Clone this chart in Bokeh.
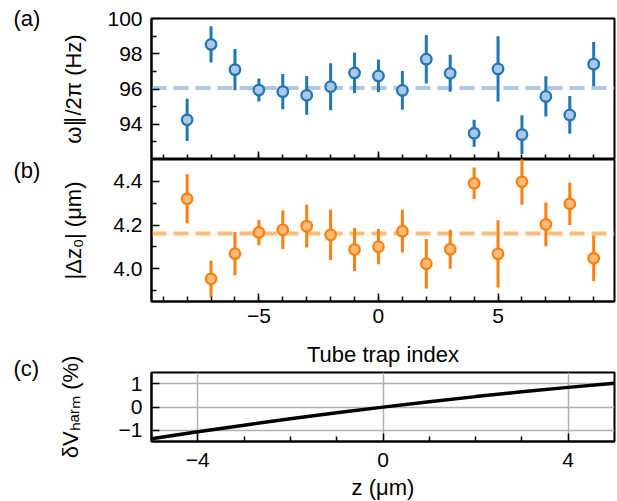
from bokeh.plotting import figure
from bokeh.models import Range1d, FixedTicker, Span, Label, ColumnDataSource, Title
from bokeh.layouts import column
from bokeh.embed import file_html
from bokeh.resources import INLINE

# ---------------- data ----------------
trap_index = [-8, -7, -6, -5, -4, -3, -2, -1, 0, 1, 2, 3, 4, 5, 6, 7, 8, 9]
freq_hz = [94.25, 98.53, 97.10, 95.94, 95.85, 95.64, 96.13, 96.91, 96.74,
           95.92, 97.69, 96.89, 93.49, 97.14, 93.41, 95.58, 94.53, 97.41]
freq_err = [1.20, 1.03, 1.17, 0.65, 1.00, 1.10, 1.33, 1.15, 0.93,
            1.10, 1.38, 1.05, 0.76, 1.85, 1.10, 1.14, 1.07, 1.25]
freq_mean = 96.06

dz_um = [4.320, 3.954, 4.069, 4.166, 4.178, 4.195, 4.155, 4.088, 4.101,
         4.172, 4.023, 4.089, 4.391, 4.068, 4.398, 4.203, 4.297, 4.048]
dz_err = [0.112, 0.082, 0.099, 0.058, 0.088, 0.098, 0.115, 0.098, 0.081,
          0.098, 0.113, 0.089, 0.072, 0.154, 0.105, 0.100, 0.097, 0.104]
dz_mean = 4.161

z_um = [-5, -4, -3, -2, -1, 0, 1, 2, 3, 4, 5]
dv_pct = [-1.36, -1.06, -0.777, -0.504, -0.245, 0.0, 0.232, 0.452, 0.657, 0.85, 1.03]

idx_major = [-5, 0, 5]
idx_minor = list(range(-9, 10))
freq_major = [94, 96, 98, 100]
freq_minor = [93, 95, 97, 99]
dz_major = [4.0, 4.2, 4.4]
dz_minor = [3.9, 4.1, 4.3]
z_major = [-4, 0, 4]
z_minor = [-3, -2, -1, 1, 2, 3]
dv_major = [-1, 0, 1]

BLUE, BLUE_L = "#1f77b4", "#aec7e8"
ORANGE, ORANGE_L = "#ff7f0e", "#ffbb78"
FONT = "Liberation Sans"
TICK_FS = "21px"
LAB_FS = "22px"


def minus(v):
    return ("%g" % v).replace("-", "\u2212")


def make_fig(height, xr, yr, top, bottom):
    p = figure(width=617, height=height, x_range=Range1d(*xr), y_range=Range1d(*yr),
               output_backend="svg", toolbar_location=None,
               min_border_left=151, min_border_right=3,
               min_border_top=top, min_border_bottom=bottom)
    p.outline_line_color = "black"
    p.outline_line_width = 2
    p.outline_line_alpha = 1
    p.grid.visible = False
    p.background_fill_color = "white"
    p.border_fill_color = "white"
    for ax in p.axis:
        ax.axis_line_width = 2
        ax.axis_line_color = "black"
        ax.major_tick_in = 8
        ax.major_tick_out = 0
        ax.minor_tick_in = 5
        ax.minor_tick_out = 0
        ax.major_tick_line_width = 1.5
        ax.minor_tick_line_width = 1.5
        ax.major_tick_line_color = "black"
        ax.minor_tick_line_color = "black"
        ax.major_label_text_font = FONT
        ax.major_label_text_font_size = TICK_FS
        ax.major_label_text_color = "black"
        ax.axis_label_text_font = FONT
        ax.axis_label_text_font_size = LAB_FS
        ax.axis_label_text_font_style = "normal"
        ax.axis_label_text_color = "black"
    p.yaxis.major_label_standoff = 9
    return p


def canvas_label(p, text, x, y, side="left", align="left"):
    p.add_layout(Label(x=x, y=y, x_units="canvas", y_units="canvas", text=text,
                       text_font=FONT, text_font_size=LAB_FS, text_color="black",
                       text_align=align, text_baseline="alphabetic"), side)


# ---------------- panel (a) ----------------
pa = make_fig(159, (-9.49, 9.87), (92, 100), 18, 0)
pa.yaxis.ticker = FixedTicker(ticks=freq_major, minor_ticks=freq_minor)
pa.yaxis.axis_label = "\u03c9\u2225/2\u03c0 (Hz)"
pa.yaxis.axis_label_standoff = 18
pa.xaxis.ticker = FixedTicker(ticks=idx_major, minor_ticks=idx_minor)
pa.xaxis.major_label_overrides = {v: "" for v in idx_major}
pa.xaxis.major_label_text_font_size = "0px"
pa.xaxis.major_label_standoff = 0
pa.add_layout(Span(location=freq_mean, dimension="width", line_color=BLUE_L,
                   line_width=4, line_dash="15 7", level="underlay"))
src_a = ColumnDataSource(dict(x=trap_index, y=freq_hz,
                              lo=[v - e for v, e in zip(freq_hz, freq_err)],
                              hi=[v + e for v, e in zip(freq_hz, freq_err)]))
pa.segment(x0="x", y0="lo", x1="x", y1="hi", source=src_a, line_color=BLUE, line_width=3)
pa.scatter(x="x", y="y", source=src_a, size=10.5, fill_color=BLUE_L, line_color=BLUE, line_width=2.3)
canvas_label(pa, "(a)", 13, 18)

# ---------------- panel (b) ----------------
pb = make_fig(175, (-9.49, 9.87), (3.85, 4.50), 0, 33)
pb.yaxis.ticker = FixedTicker(ticks=dz_major, minor_ticks=dz_minor)
pb.yaxis.major_label_overrides = {v: "%.1f" % v for v in dz_major}
pb.yaxis.axis_label = "|\u0394z\u2080| (\u03bcm)"
pb.yaxis.axis_label_standoff = 24
pb.xaxis.ticker = FixedTicker(ticks=idx_major, minor_ticks=idx_minor)
pb.xaxis.major_label_overrides = {v: minus(v) for v in idx_major}
pb.xaxis.major_label_standoff = 7
pb.add_layout(Span(location=dz_mean, dimension="width", line_color=ORANGE_L,
                   line_width=4, line_dash="15 7", level="underlay"))
src_b = ColumnDataSource(dict(x=trap_index, y=dz_um,
                              lo=[v - e for v, e in zip(dz_um, dz_err)],
                              hi=[v + e for v, e in zip(dz_um, dz_err)]))
pb.segment(x0="x", y0="lo", x1="x", y1="hi", source=src_b, line_color=ORANGE, line_width=3)
pb.scatter(x="x", y="y", source=src_b, size=10.5, fill_color=ORANGE_L, line_color=ORANGE, line_width=2.3)
canvas_label(pb, "(b)", 13, 11)

# ---------------- panel (c) ----------------
pc = make_fig(167, (-5, 5), (-1.48, 1.49), 37, 60)
pc.xaxis.ticker = FixedTicker(ticks=z_major, minor_ticks=z_minor)
pc.xaxis.major_label_overrides = {v: minus(v) for v in z_major}
pc.xaxis.major_label_standoff = 11
pc.yaxis.ticker = FixedTicker(ticks=dv_major, minor_ticks=[])
pc.yaxis.major_label_overrides = {v: minus(v) for v in dv_major}
pc.yaxis.axis_label = "\u03b4V\u2095\u2090\u1d63\u2098 (%)"
pc.yaxis.axis_label_standoff = 33
pc.grid.visible = True
pc.xgrid.ticker = FixedTicker(ticks=z_major, minor_ticks=[])
pc.ygrid.ticker = FixedTicker(ticks=dv_major, minor_ticks=[])
pc.grid.grid_line_color = "#b0b0b0"
pc.grid.grid_line_width = 1.5
pc.grid.grid_line_alpha = 1
pc.line(x=z_um, y=dv_pct, line_color="black", line_width=3.5)
pc.add_layout(Title(text="Tube trap index", align="center", text_font=FONT,
                    text_font_size=LAB_FS, text_font_style="normal",
                    text_color="black", standoff=11), "above")
canvas_label(pc, "(c)", 13, 34)
canvas_label(pc, "z (\u03bcm)", 382.5, 153.4, side="below", align="center")

layout = column(pa, pb, pc, spacing=0)
open("out.html", "w").write(file_html(layout, INLINE))
